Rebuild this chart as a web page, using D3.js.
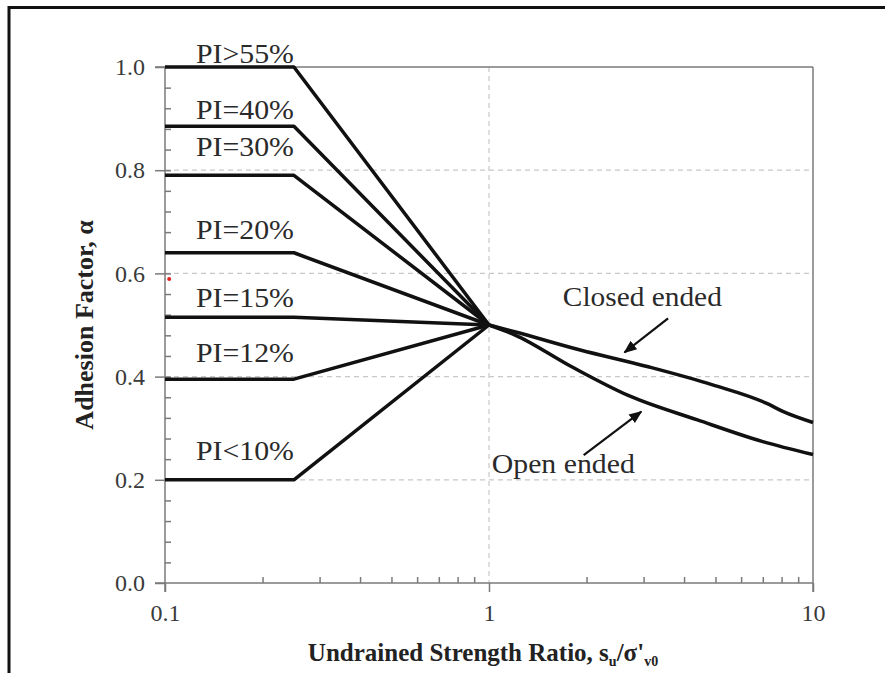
<!DOCTYPE html>
<html>
<head>
<meta charset="utf-8">
<script src="https://cdn.jsdelivr.net/npm/d3@7"></script>
<style>
  body { margin: 0; background: #fff; }
  svg { display: block; font-family: "Liberation Serif", "Times New Roman", serif; }
</style>
</head>
<body>
<div id="chart"></div>
<script>
// plasticity index curves: flat alpha up to the break, then to the common point
var piLabels = ["PI>55%", "PI=40%", "PI=30%", "PI=20%", "PI=15%", "PI=12%", "PI<10%"]
var piAlpha = [1.0, 0.885, 0.79, 0.64, 0.515, 0.395, 0.2]
var piBreak = 0.25
var commonPoint = [1, 0.5]
// label anchors (data units)
var piLabelAlpha = [1.007, 0.90, 0.827, 0.667, 0.535, 0.429, 0.238]

// pile end curves beyond the common point
var closedEnded = [[1, 0.5], [1.2, 0.487], [1.9, 0.452], [3.1, 0.419], [4.9, 0.384], [7.2, 0.348], [8.1, 0.332], [10, 0.311]]
var openEnded = [[1, 0.5], [1.2, 0.481], [1.8, 0.419], [2.7, 0.363], [4.4, 0.316], [7.0, 0.274], [10, 0.249]]

// annotations: [text, x, alpha, width] and arrows [[x0,a0],[x1,a1]]
var notes = [["Closed ended", 1.69, 0.536, 159], ["Open ended", 1.02, 0.213, 143]]
var arrows = [[[3.57, 0.513], [2.62, 0.447]], [[1.96, 0.248], [2.95, 0.332]]]
var redDot = [[0.103, 0.589]]

// ticks
var xTicks = [0.1, 1, 10]
var xMinor = [0.2, 0.3, 0.4, 0.5, 0.6, 0.7, 0.8, 0.9, 2, 3, 4, 5, 6, 7, 8, 9]
var yTicks = [0, 0.2, 0.4, 0.6, 0.8, 1.0]
var yMinor = d3.range(1, 25).map(function(i) { return +(i * 0.04).toFixed(2) })
var yGrid = [0.2, 0.4, 0.6, 0.8]
var xGrid = [1]

var W = 885, H = 673
var svg = d3.select("#chart").append("svg").attr("width", W).attr("height", H)

var x = d3.scaleLog().domain([0.1, 10]).range([165, 813])
var y = d3.scaleLinear().domain([0, 1]).range([583, 67])

// outer frame (top and left edges only)
svg.append("path")
  .attr("d", "M9,673 V7.5 H885")
  .style("fill", "none").style("stroke", "#111").style("stroke-width", 3)

var axisColor = "#7a7a7a"

// grid
svg.selectAll(".hgrid").data(yGrid).enter().append("line")
  .attr("x1", x(0.1)).attr("x2", x(10))
  .attr("y1", function(d) { return y(d) }).attr("y2", function(d) { return y(d) })
  .style("stroke", "#c8c8c8").style("stroke-width", 1.2).style("stroke-dasharray", "5,4")
svg.selectAll(".vgrid").data(xGrid).enter().append("line")
  .attr("x1", function(d) { return x(d) }).attr("x2", function(d) { return x(d) })
  .attr("y1", y(1)).attr("y2", y(0))
  .style("stroke", "#c8c8c8").style("stroke-width", 1.2).style("stroke-dasharray", "5,4")

// box: top and right edges
svg.append("line").attr("x1", x(0.1) - 10).attr("x2", x(10)).attr("y1", y(1)).attr("y2", y(1))
  .style("stroke", axisColor).style("stroke-width", 1.5)
svg.append("line").attr("x1", x(10)).attr("x2", x(10)).attr("y1", y(1)).attr("y2", y(0) + 9)
  .style("stroke", axisColor).style("stroke-width", 1.5)
// left and bottom axis lines
svg.append("line").attr("x1", x(0.1)).attr("x2", x(0.1)).attr("y1", y(1)).attr("y2", y(0) + 9)
  .style("stroke", axisColor).style("stroke-width", 1.5)
svg.append("line").attr("x1", x(0.1) - 10).attr("x2", x(10)).attr("y1", y(0)).attr("y2", y(0))
  .style("stroke", axisColor).style("stroke-width", 1.5)

function styleAxis(g) {
  g.select(".domain").remove()
  g.selectAll("line").style("stroke", axisColor).style("stroke-width", 1.5)
  g.selectAll("text").style("fill", "#3a3a3a").style("font-size", "24px")
    .style("font-family", "'Liberation Serif', serif")
}

// y axis
svg.append("g").attr("transform", "translate(" + x(0.1) + ",0)")
  .call(d3.axisLeft(y).tickValues(yTicks).tickSize(10).tickPadding(10).tickFormat(d3.format(".1f")))
  .call(styleAxis)
svg.append("g").attr("transform", "translate(" + x(0.1) + ",0)")
  .call(d3.axisRight(y).tickValues(yMinor).tickSize(6).tickFormat(""))
  .call(styleAxis)

// x axis
svg.append("g").attr("transform", "translate(0," + y(0) + ")")
  .call(d3.axisBottom(x).tickValues(xTicks).tickSize(9).tickPadding(12).tickFormat(function(d) { return d }))
  .call(styleAxis)
svg.append("g").attr("transform", "translate(0," + y(0) + ")")
  .call(d3.axisTop(x).tickValues(xMinor).tickSize(6).tickFormat(""))
  .call(styleAxis)

// axis titles
var xt = svg.append("text")
  .attr("x", (x(0.1) + x(10)) / 2 - 6).attr("y", 661)
  .attr("text-anchor", "middle")
  .style("font-weight", "bold").style("font-size", "25px").style("fill", "#222")
xt.append("tspan").text("Undrained Strength Ratio, s")
xt.append("tspan").attr("dy", 5).style("font-size", "14px").text("u")
xt.append("tspan").attr("dy", -5).text("/σ'")
xt.append("tspan").attr("dy", 5).style("font-size", "14px").text("v0")

svg.append("text")
  .attr("transform", "translate(93,325) rotate(-90)")
  .attr("text-anchor", "middle")
  .style("font-weight", "bold").style("font-size", "26px").style("fill", "#222")
  .text("Adhesion Factor, α")

// curves
var line = d3.line().x(function(d) { return x(d[0]) }).y(function(d) { return y(d[1]) })
var piCurves = piAlpha.map(function(a) { return [[0.1, a], [piBreak, a], commonPoint] })

svg.selectAll(".pi").data(piCurves).enter().append("path")
  .attr("d", line)
  .style("fill", "none").style("stroke", "#111").style("stroke-width", 3.5)
  .style("stroke-linejoin", "round")

svg.selectAll(".end").data([closedEnded, openEnded]).enter().append("path")
  .attr("d", line.curve(d3.curveMonotoneX))
  .style("fill", "none").style("stroke", "#111").style("stroke-width", 3.5)
  .style("stroke-linejoin", "round")

// PI labels
svg.selectAll(".pilabel").data(piLabels).enter().append("text")
  .attr("x", x(piBreak)).attr("y", function(d, i) { return y(piLabelAlpha[i]) })
  .attr("text-anchor", "end")
  .attr("textLength", 98).attr("lengthAdjust", "spacingAndGlyphs")
  .style("font-size", "27px").style("fill", "#2a2a2a")
  .text(function(d) { return d })

// annotations
svg.selectAll(".note").data(notes).enter().append("text")
  .attr("x", function(d) { return x(d[1]) }).attr("y", function(d) { return y(d[2]) })
  .attr("textLength", function(d) { return d[3] }).attr("lengthAdjust", "spacingAndGlyphs")
  .style("font-size", "27px").style("fill", "#2a2a2a")
  .text(function(d) { return d[0] })

svg.append("defs").append("marker")
  .attr("id", "head").attr("viewBox", "0 0 10 10").attr("refX", 9).attr("refY", 5)
  .attr("markerWidth", 6).attr("markerHeight", 6).attr("orient", "auto")
  .append("path").attr("d", "M0,1 L10,5 L0,9 Z").style("fill", "#111")

svg.selectAll(".arrow").data(arrows).enter().append("line")
  .attr("x1", function(d) { return x(d[0][0]) }).attr("y1", function(d) { return y(d[0][1]) })
  .attr("x2", function(d) { return x(d[1][0]) }).attr("y2", function(d) { return y(d[1][1]) })
  .attr("marker-end", "url(#head)")
  .style("stroke", "#111").style("stroke-width", 2.2)

svg.selectAll(".dot").data(redDot).enter().append("circle")
  .attr("cx", function(d) { return x(d[0]) }).attr("cy", function(d) { return y(d[1]) })
  .attr("r", 2).style("fill", "#e0201c")
</script>
</body>
</html>
